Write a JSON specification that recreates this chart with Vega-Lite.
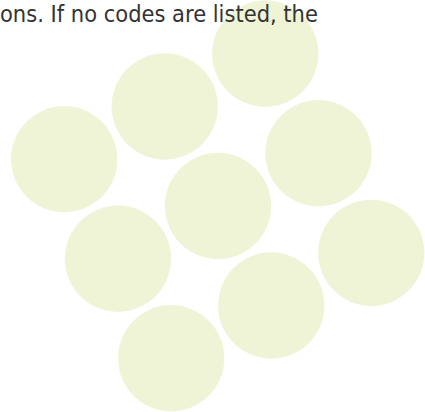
{
  "$schema": "https://vega.github.io/schema/vega-lite/v6.json",
  "width": 425,
  "height": 412,
  "padding": 0,
  "autosize": {"type": "fit", "contains": "padding"},
  "background": "white",
  "config": {"view": {"stroke": null}},
  "datasets": {
    "circles": [
      {"x": 266.5, "y": 52},
      {"x": 165.5, "y": 105},
      {"x": 64.5, "y": 158},
      {"x": 320, "y": 152},
      {"x": 219, "y": 205},
      {"x": 118.5, "y": 258},
      {"x": 373, "y": 252},
      {"x": 272.5, "y": 305},
      {"x": 172, "y": 358}
    ],
    "label": [
      {"x": 0, "y": 20.5, "text": "ons. If no codes are listed, the"}
    ]
  },
  "layer": [
    {
      "data": {"name": "circles"},
      "mark": {"type": "circle", "size": 11300, "opacity": 1, "color": "#eff4d7"},
      "encoding": {
        "x": {"field": "x", "type": "quantitative", "scale": {"domain": [0, 425], "nice": false, "zero": false}, "axis": null},
        "y": {"field": "y", "type": "quantitative", "scale": {"domain": [412, 0], "nice": false, "zero": false}, "axis": null}
      }
    },
    {
      "data": {"name": "label"},
      "mark": {"type": "text", "align": "left", "baseline": "alphabetic", "font": "DejaVu Sans Condensed", "fontSize": 23.4, "color": "#333333"},
      "encoding": {
        "x": {"field": "x", "type": "quantitative"},
        "y": {"field": "y", "type": "quantitative"},
        "text": {"field": "text"}
      }
    }
  ]
}
